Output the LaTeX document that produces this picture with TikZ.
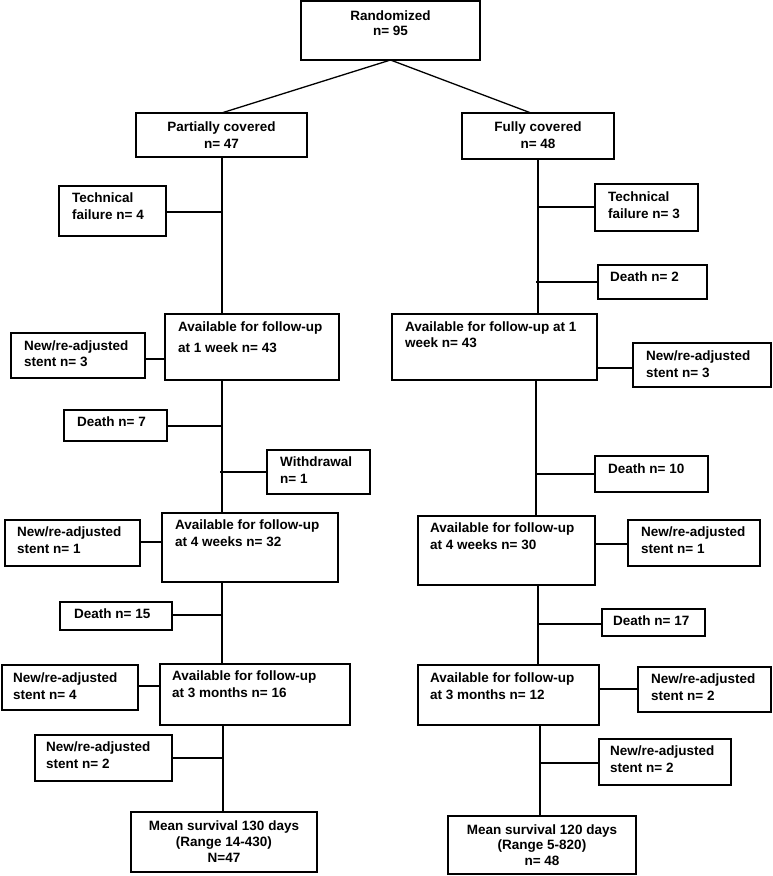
\documentclass[tikz,border=0pt]{standalone}
\usepackage{fontspec}
\setmainfont{Liberation Sans}
\tikzset{
  box/.style={draw, line width=1.3pt, rectangle, inner sep=0pt, outer sep=0pt, anchor=north west},
  lbl/.style={inner sep=0pt, align=left, anchor=base west, font=\bfseries\fontsize{13.5}{17}\selectfont},
  clbl/.style={inner sep=0pt, align=center, anchor=base, font=\bfseries\fontsize{13.5}{16}\selectfont},
  conn/.style={line width=1.3pt}
}
\newcommand\mkbox[5]{\node[box, minimum width={(#4-#2)*1pt}, minimum height={(#5-#3)*1pt}] (#1) at (#2,#3) {};}
\begin{document}
\begin{tikzpicture}[x=1pt,y=-1pt]
\useasboundingbox (0,0) rectangle (773,876);
% boxes
\mkbox{ran}{301}{1}{480}{60}
\mkbox{pc}{136}{113}{307}{157}
\mkbox{fc}{462}{113}{614}{159}
\mkbox{tf4}{59}{186}{166}{236}
\mkbox{tf3}{595}{184}{698}{231}
\mkbox{d2}{598}{265}{707}{299}
\mkbox{a1L}{165}{314}{339}{380}
\mkbox{s3L}{11}{333}{145}{378}
\mkbox{a1R}{392}{314}{597}{380}
\mkbox{s3R}{633}{343}{771}{387}
\mkbox{d7}{64}{410}{167}{441}
\mkbox{wd}{267}{450}{370}{494}
\mkbox{d10}{595}{456}{708}{492}
\mkbox{a4L}{162}{513}{338}{582}
\mkbox{s1L}{5}{520}{140}{566}
\mkbox{a4R}{418}{516}{595}{585}
\mkbox{s1R}{628}{520}{760}{566}
\mkbox{d15}{60}{602}{172}{630}
\mkbox{d17}{602}{609}{705}{636}
\mkbox{a3L}{160}{664}{350}{725}
\mkbox{s4L}{2}{665}{138}{710}
\mkbox{a3R}{418}{665}{599}{725}
\mkbox{s2R}{638}{667}{771}{712}
\mkbox{s2L}{35}{735}{172}{781}
\mkbox{s2Rb}{599}{739}{731}{785}
\mkbox{mL}{131}{812}{317}{872}
\mkbox{mR}{448}{816}{636}{874}
% texts (anchor = baseline of the last line)
\node[clbl, font=\bfseries\fontsize{13.5}{14.5}\selectfont] (ran-t) at (390.5,35.2) {Randomized\\n= 95};
\node[clbl, font=\bfseries\fontsize{13.5}{16.7}\selectfont] (pc-t) at (221.5,148.4) {Partially covered\\n= 47};
\node[clbl, font=\bfseries\fontsize{13.5}{16.7}\selectfont] (fc-t) at (538,148.4) {Fully covered\\n= 48};
\node[lbl] (tf4-t) at (72,219.7) {Technical\\failure n= 4};
\node[lbl] (tf3-t) at (608,218) {Technical\\failure n= 3};
\node[lbl] (d2-t) at (610,281.7) {Death n= 2};
\node[lbl, font=\bfseries\fontsize{13.5}{20.7}\selectfont] (a1L-t) at (178,352.4) {Available for follow-up\\at 1 week n= 43};
\node[lbl, font=\bfseries\fontsize{13.5}{16.3}\selectfont] (s3L-t) at (24,366.3) {New/re-adjusted\\stent n= 3};
\node[lbl, font=\bfseries\fontsize{13.5}{15.7}\selectfont] (a1R-t) at (405,347.4) {Available for follow-up at 1\\week n= 43};
\node[lbl] (s3R-t) at (646,377) {New/re-adjusted\\stent n= 3};
\node[lbl] (d7-t) at (77,426.7) {Death n= 7};
\node[lbl] (wd-t) at (280,483) {Withdrawal\\n= 1};
\node[lbl] (d10-t) at (608,473.3) {Death n= 10};
\node[lbl] (a4L-t) at (175,546.3) {Available for follow-up\\at 4 weeks n= 32};
\node[lbl] (s1L-t) at (17,553.7) {New/re-adjusted\\stent n= 1};
\node[lbl] (a4R-t) at (430,549.7) {Available for follow-up\\at 4 weeks n= 30};
\node[lbl] (s1R-t) at (641,553.7) {New/re-adjusted\\stent n= 1};
\node[lbl] (d15-t) at (74,618.3) {Death n= 15};
\node[lbl] (d17-t) at (613,625.3) {Death n= 17};
\node[lbl] (a3L-t) at (172,697) {Available for follow-up\\at 3 months n= 16};
\node[lbl] (s4L-t) at (13,699) {New/re-adjusted\\stent n= 4};
\node[lbl] (a3R-t) at (430,699) {Available for follow-up\\at 3 months n= 12};
\node[lbl] (s2R-t) at (651,700.7) {New/re-adjusted\\stent n= 2};
\node[lbl] (s2L-t) at (46,768.7) {New/re-adjusted\\stent n= 2};
\node[lbl] (s2Rb-t) at (610,772) {New/re-adjusted\\stent n= 2};
\node[clbl] (mL-t) at (224,862.7) {Mean survival 130 days\\(Range 14-430)\\N=47};
\node[clbl, font=\bfseries\fontsize{13.5}{15.5}\selectfont] (mR-t) at (542,865) {Mean survival 120 days\\(Range 5-820)\\n= 48};
% trunk reference coordinates
\coordinate (LX) at (222,0);
\coordinate (LXb) at (223,0);
\coordinate (RX) at (538,0);
\coordinate (RXm) at (536,0);
\coordinate (RXb) at (540,0);
% split
\draw[conn] (ran.south) -- (pc.north);
\draw[conn] (ran.south) -- ([xshift=-7pt]fc.north);
% left trunk
\draw[conn] (LX |- pc.south) -- (LX |- a1L.north);
\draw[conn] (LX |- a1L.south) -- (LX |- a4L.north);
\draw[conn] (LX |- a4L.south) -- (LX |- a3L.north);
\draw[conn] (LXb |- a3L.south) -- (LXb |- mL.north);
% right trunk
\draw[conn] (RX |- fc.south) -- (RX |- a1R.north);
\draw[conn] (RXm |- a1R.south) -- (RXm |- a4R.north);
\draw[conn] (RX |- a4R.south) -- (RX |- a3R.north);
\draw[conn] (RXb |- a3R.south) -- (RXb |- mR.north);
% left side branches
\coordinate (ctf4) at (222,212);
\draw[conn] (tf4.east |- ctf4) -- (ctf4);
\draw[conn] (s3L.east |- 0,359) -- (a1L.west |- 0,359);
\coordinate (cd7) at (222,426);
\draw[conn] (d7.east |- cd7) -- (cd7);
\coordinate (cwd) at (220,472);
\draw[conn] (cwd) -- (wd.west |- cwd);
\draw[conn] (s1L.east |- 0,542) -- (a4L.west |- 0,542);
\coordinate (cd15) at (222,615);
\draw[conn] (d15.east |- cd15) -- (cd15);
\draw[conn] (s4L.east |- 0,686) -- (a3L.west |- 0,686);
\coordinate (cs2L) at (224,758);
\draw[conn] (s2L.east |- cs2L) -- (cs2L);
% right side branches
\coordinate (ctf3) at (538,207);
\draw[conn] (ctf3) -- (tf3.west |- ctf3);
\coordinate (cd2) at (536,282);
\draw[conn] (cd2) -- (d2.west |- cd2);
\draw[conn] (a1R.east |- 0,368) -- (s3R.west |- 0,368);
\coordinate (cd10) at (536,474);
\draw[conn] (cd10) -- (d10.west |- cd10);
\draw[conn] (a4R.east |- 0,544) -- (s1R.west |- 0,544);
\coordinate (cd17) at (537,624);
\draw[conn] (cd17) -- (d17.west |- cd17);
\draw[conn] (a3R.east |- 0,689) -- (s2R.west |- 0,689);
\coordinate (cs2R) at (540,763);
\draw[conn] (cs2R) -- (s2Rb.west |- cs2R);
\end{tikzpicture}
\end{document}
